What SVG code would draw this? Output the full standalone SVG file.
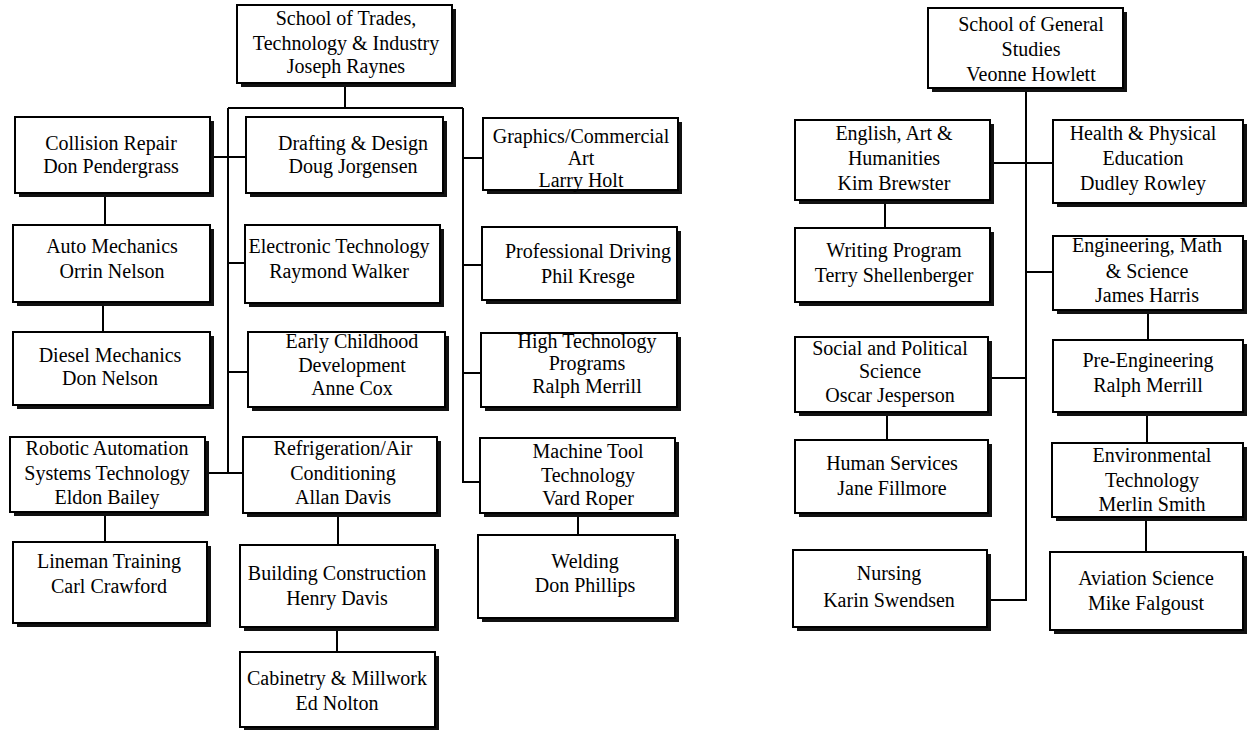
<svg xmlns="http://www.w3.org/2000/svg" width="1249" height="731" viewBox="0 0 1249 731">
<style>
.sh{fill:#111}
.bx{fill:#fff;stroke:#000;stroke-width:2}
.t{font-family:"Liberation Serif","Times New Roman",serif;font-size:20px;fill:#000;text-anchor:middle}
.c{fill:none;stroke:#000;stroke-width:2}
</style>
<rect width="1249" height="731" fill="#fff"/>
<g id="connectors">
<path class="c" d="M345 83V108M228 108H463M228 108V473M463 108V482H480M210 157H246M228 263H245M228 372H248M205 473H243M105 193V225M103 302V332M105 512V542M338 513V545M337 627V652M463 158H483M463 265H482M463 373H481M578 513V535"/>
<path class="c" d="M1026 88V600H987M990 163H1053M885 200V228M1026 272H1053M988 378H1026M887 412V440M1148 310V340M1147 412V443M1146 517V552"/>
</g>
<g id="trades"><rect class="sh" x="241" y="9" width="215" height="78"/><rect class="bx" x="237" y="5" width="215" height="78"/><text class="t"><tspan x="346" y="25">School of Trades,</tspan><tspan x="346" y="50">Technology &amp; Industry</tspan><tspan x="346" y="73">Joseph Raynes</tspan></text></g>
<g id="collision"><rect class="sh" x="19" y="121" width="195" height="76"/><rect class="bx" x="15" y="117" width="195" height="76"/><text class="t"><tspan x="111" y="150">Collision Repair</tspan><tspan x="111" y="173">Don Pendergrass</tspan></text></g>
<g id="drafting"><rect class="sh" x="250" y="121" width="197" height="76"/><rect class="bx" x="246" y="117" width="197" height="76"/><text class="t"><tspan x="353" y="150">Drafting &amp; Design</tspan><tspan x="353" y="173">Doug Jorgensen</tspan></text></g>
<g id="auto"><rect class="sh" x="17" y="229" width="197" height="77"/><rect class="bx" x="13" y="225" width="197" height="77"/><text class="t"><tspan x="112" y="253">Auto Mechanics</tspan><tspan x="112" y="278">Orrin Nelson</tspan></text></g>
<g id="electronic"><rect class="sh" x="249" y="229" width="195" height="78"/><rect class="bx" x="245" y="225" width="195" height="78"/><text class="t"><tspan x="339" y="253">Electronic Technology</tspan><tspan x="339" y="278">Raymond Walker</tspan></text></g>
<g id="diesel"><rect class="sh" x="17" y="336" width="197" height="73"/><rect class="bx" x="13" y="332" width="197" height="73"/><text class="t"><tspan x="110" y="362">Diesel Mechanics</tspan><tspan x="110" y="385">Don Nelson</tspan></text></g>
<g id="early"><rect class="sh" x="252" y="336" width="197" height="75"/><rect class="bx" x="248" y="332" width="197" height="75"/><text class="t"><tspan x="352" y="348">Early Childhood</tspan><tspan x="352" y="372">Development</tspan><tspan x="352" y="395">Anne Cox</tspan></text></g>
<g id="robotic"><rect class="sh" x="14" y="441" width="195" height="75"/><rect class="bx" x="10" y="437" width="195" height="75"/><text class="t"><tspan x="107" y="455">Robotic Automation</tspan><tspan x="107" y="480">Systems Technology</tspan><tspan x="107" y="504">Eldon Bailey</tspan></text></g>
<g id="refrigeration"><rect class="sh" x="247" y="441" width="194" height="76"/><rect class="bx" x="243" y="437" width="194" height="76"/><text class="t"><tspan x="343" y="455">Refrigeration/Air</tspan><tspan x="343" y="480">Conditioning</tspan><tspan x="343" y="504">Allan Davis</tspan></text></g>
<g id="lineman"><rect class="sh" x="17" y="546" width="194" height="81"/><rect class="bx" x="13" y="542" width="194" height="81"/><text class="t"><tspan x="109" y="568">Lineman Training</tspan><tspan x="109" y="593">Carl Crawford</tspan></text></g>
<g id="building"><rect class="sh" x="244" y="549" width="195" height="82"/><rect class="bx" x="240" y="545" width="195" height="82"/><text class="t"><tspan x="337" y="580">Building Construction</tspan><tspan x="337" y="605">Henry Davis</tspan></text></g>
<g id="cabinetry"><rect class="sh" x="244" y="656" width="195" height="74"/><rect class="bx" x="240" y="652" width="195" height="75"/><text class="t"><tspan x="337" y="685">Cabinetry &amp; Millwork</tspan><tspan x="337" y="710">Ed Nolton</tspan></text></g>
<g id="graphics"><rect class="sh" x="487" y="122" width="195" height="72"/><rect class="bx" x="483" y="118" width="195" height="72"/><text class="t"><tspan x="581" y="143">Graphics/Commercial</tspan><tspan x="581" y="165">Art</tspan><tspan x="581" y="187">Larry Holt</tspan></text></g>
<g id="driving"><rect class="sh" x="486" y="231" width="195" height="73"/><rect class="bx" x="482" y="227" width="195" height="73"/><text class="t"><tspan x="588" y="258">Professional Driving</tspan><tspan x="588" y="283">Phil Kresge</tspan></text></g>
<g id="hightech"><rect class="sh" x="485" y="337" width="196" height="74"/><rect class="bx" x="481" y="333" width="196" height="74"/><text class="t"><tspan x="587" y="348">High Technology</tspan><tspan x="587" y="370">Programs</tspan><tspan x="587" y="393">Ralph Merrill</tspan></text></g>
<g id="machine"><rect class="sh" x="484" y="442" width="195" height="75"/><rect class="bx" x="480" y="438" width="195" height="75"/><text class="t"><tspan x="588" y="458">Machine Tool</tspan><tspan x="588" y="482">Technology</tspan><tspan x="588" y="505">Vard Roper</tspan></text></g>
<g id="welding"><rect class="sh" x="482" y="539" width="197" height="83"/><rect class="bx" x="478" y="535" width="197" height="83"/><text class="t"><tspan x="585" y="568">Welding</tspan><tspan x="585" y="592">Don Phillips</tspan></text></g>
<g id="general"><rect class="sh" x="932" y="12" width="195" height="80"/><rect class="bx" x="928" y="8" width="195" height="80"/><text class="t"><tspan x="1031" y="31">School of General</tspan><tspan x="1031" y="56">Studies</tspan><tspan x="1031" y="81">Veonne Howlett</tspan></text></g>
<g id="english"><rect class="sh" x="799" y="124" width="195" height="80"/><rect class="bx" x="795" y="120" width="195" height="80"/><text class="t"><tspan x="894" y="140">English, Art &amp;</tspan><tspan x="894" y="165">Humanities</tspan><tspan x="894" y="190">Kim Brewster</tspan></text></g>
<g id="health"><rect class="sh" x="1057" y="124" width="190" height="83"/><rect class="bx" x="1053" y="120" width="190" height="83"/><text class="t"><tspan x="1143" y="140">Health &amp; Physical</tspan><tspan x="1143" y="165">Education</tspan><tspan x="1143" y="190">Dudley Rowley</tspan></text></g>
<g id="writing"><rect class="sh" x="799" y="232" width="195" height="74"/><rect class="bx" x="795" y="228" width="195" height="74"/><text class="t"><tspan x="894" y="257">Writing Program</tspan><tspan x="894" y="282">Terry Shellenberger</tspan></text></g>
<g id="engineering"><rect class="sh" x="1057" y="240" width="190" height="74"/><rect class="bx" x="1053" y="236" width="190" height="74"/><text class="t"><tspan x="1147" y="252">Engineering, Math</tspan><tspan x="1147" y="278">&amp; Science</tspan><tspan x="1147" y="302">James Harris</tspan></text></g>
<g id="social"><rect class="sh" x="799" y="341" width="193" height="75"/><rect class="bx" x="795" y="337" width="193" height="75"/><text class="t"><tspan x="890" y="355">Social and Political</tspan><tspan x="890" y="378">Science</tspan><tspan x="890" y="402">Oscar Jesperson</tspan></text></g>
<g id="preeng"><rect class="sh" x="1057" y="344" width="190" height="72"/><rect class="bx" x="1053" y="340" width="190" height="72"/><text class="t"><tspan x="1148" y="367">Pre-Engineering</tspan><tspan x="1148" y="392">Ralph Merrill</tspan></text></g>
<g id="human"><rect class="sh" x="799" y="444" width="193" height="73"/><rect class="bx" x="795" y="440" width="193" height="73"/><text class="t"><tspan x="892" y="470">Human Services</tspan><tspan x="892" y="495">Jane Fillmore</tspan></text></g>
<g id="environmental"><rect class="sh" x="1056" y="447" width="191" height="74"/><rect class="bx" x="1052" y="443" width="191" height="74"/><text class="t"><tspan x="1152" y="462">Environmental</tspan><tspan x="1152" y="487">Technology</tspan><tspan x="1152" y="511">Merlin Smith</tspan></text></g>
<g id="nursing"><rect class="sh" x="797" y="554" width="194" height="77"/><rect class="bx" x="793" y="550" width="194" height="77"/><text class="t"><tspan x="889" y="580">Nursing</tspan><tspan x="889" y="607">Karin Swendsen</tspan></text></g>
<g id="aviation"><rect class="sh" x="1054" y="556" width="193" height="78"/><rect class="bx" x="1050" y="552" width="193" height="78"/><text class="t"><tspan x="1146" y="585">Aviation Science</tspan><tspan x="1146" y="610">Mike Falgoust</tspan></text></g>
</svg>
